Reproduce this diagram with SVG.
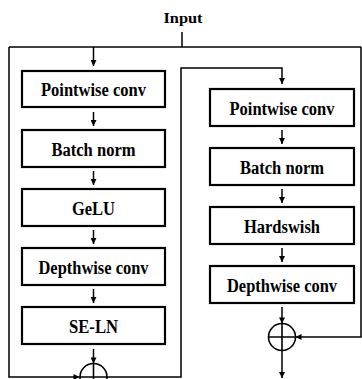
<svg xmlns="http://www.w3.org/2000/svg" width="362" height="379" viewBox="0 0 362 379">
<style>
.box{fill:#fff;stroke:#000;stroke-width:2.2}
.lbl{font-family:"Liberation Serif","Times New Roman",serif;font-weight:bold;font-size:18.5px;text-anchor:middle;fill:#000}
.ln{fill:none;stroke:#000;stroke-width:1.5}
.add{fill:none;stroke:#000;stroke-width:1.6}
</style>
<defs>
<marker id="ah" viewBox="0 0 10 10" refX="10" refY="5" markerWidth="7" markerHeight="6" markerUnits="userSpaceOnUse" orient="auto">
<path d="M0,0 L10,5 L0,10 z" fill="#000"/>
</marker>
</defs>
<rect width="362" height="379" fill="#fff"/>
<text id="input" x="183" y="23" class="lbl" style="font-size:15.5px" textLength="39" lengthAdjust="spacingAndGlyphs">Input</text>

<g id="connectors">
<path class="ln" d="M182,32 V47"/>
<path class="ln" d="M9,47 H361"/>
<path class="ln" d="M9,47 V377 H79.5" marker-end="url(#ah)"/>
<path class="ln" d="M93.5,47 V66" marker-end="url(#ah)"/>
<path class="ln" d="M93.5,112 V126" marker-end="url(#ah)"/>
<path class="ln" d="M93.5,171 V185" marker-end="url(#ah)"/>
<path class="ln" d="M93.5,230 V244" marker-end="url(#ah)"/>
<path class="ln" d="M93.5,289 V303" marker-end="url(#ah)"/>
<path class="ln" d="M93.5,349 V363.5" marker-end="url(#ah)"/>
<path class="ln" d="M107,377 H181 V68 H282 V84" marker-end="url(#ah)"/>
<path class="ln" d="M282,130 V144" marker-end="url(#ah)"/>
<path class="ln" d="M282,189 V203" marker-end="url(#ah)"/>
<path class="ln" d="M282,248 V262" marker-end="url(#ah)"/>
<path class="ln" d="M282,307 V323.5" marker-end="url(#ah)"/>
<path class="ln" d="M361,47 V337 H295.5" marker-end="url(#ah)"/>
<path class="ln" d="M282,350.5 V378" marker-end="url(#ah)"/>
</g>

<g id="l-pointwise"><rect class="box" x="22" y="71" width="143" height="36"/><text class="lbl" x="93.5" y="96" textLength="105" lengthAdjust="spacingAndGlyphs">Pointwise conv</text></g>
<g id="l-batchnorm"><rect class="box" x="22" y="130" width="143" height="37"/><text class="lbl" x="93.5" y="155.5" textLength="84" lengthAdjust="spacingAndGlyphs">Batch norm</text></g>
<g id="l-gelu"><rect class="box" x="22" y="189" width="143" height="37"/><text class="lbl" x="93.5" y="214.5" textLength="43" lengthAdjust="spacingAndGlyphs">GeLU</text></g>
<g id="l-depthwise"><rect class="box" x="22" y="248" width="143" height="37"/><text class="lbl" x="93.5" y="273.5" textLength="110" lengthAdjust="spacingAndGlyphs">Depthwise conv</text></g>
<g id="l-seln"><rect class="box" x="22" y="307" width="143" height="37"/><text class="lbl" x="93.5" y="332.5" textLength="49" lengthAdjust="spacingAndGlyphs">SE-LN</text></g>
<g id="l-add"><circle class="add" cx="93.5" cy="377" r="13.5"/><path class="add" d="M80,377 H107 M93.5,363.5 V390"/></g>

<g id="r-pointwise"><rect class="box" x="210" y="89" width="144" height="37"/><text class="lbl" x="282" y="114.5" textLength="105" lengthAdjust="spacingAndGlyphs">Pointwise conv</text></g>
<g id="r-batchnorm"><rect class="box" x="210" y="148" width="144" height="37"/><text class="lbl" x="282" y="173.5" textLength="84" lengthAdjust="spacingAndGlyphs">Batch norm</text></g>
<g id="r-hardswish"><rect class="box" x="210" y="207" width="144" height="37"/><text class="lbl" x="282" y="232.5" textLength="76" lengthAdjust="spacingAndGlyphs">Hardswish</text></g>
<g id="r-depthwise"><rect class="box" x="210" y="266" width="144" height="37"/><text class="lbl" x="282" y="291.5" textLength="110" lengthAdjust="spacingAndGlyphs">Depthwise conv</text></g>
<g id="r-add"><circle class="add" cx="282" cy="337" r="13.5"/><path class="add" d="M268.5,337 H295.5 M282,323.5 V350.5"/></g>
</svg>
